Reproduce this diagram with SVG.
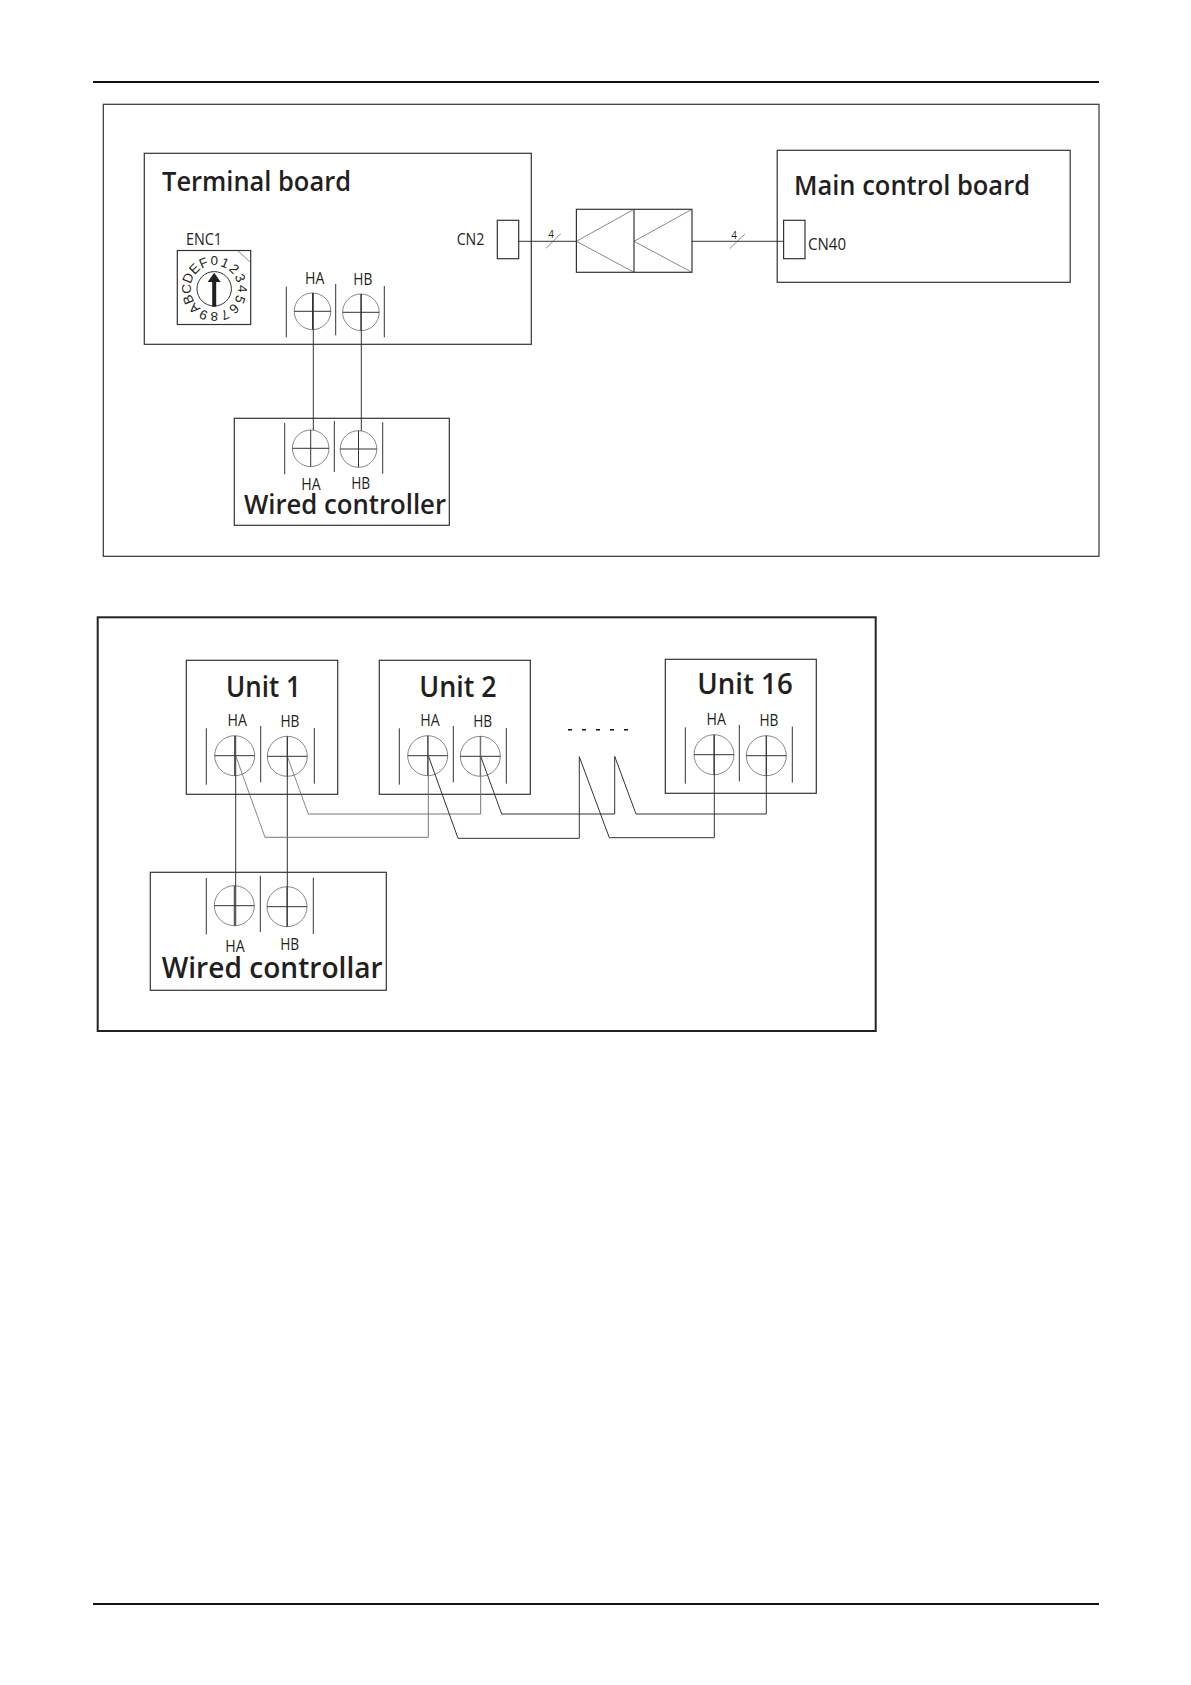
<svg xmlns="http://www.w3.org/2000/svg" width="1191" height="1685" viewBox="0 0 1191 1685">
<defs>
<style>
.b{fill:#fff;stroke:#333;stroke-width:1.2}
.f{fill:none;stroke:#333;stroke-width:1.2}
.w{fill:none;stroke:#333;stroke-width:1}
.g{fill:none;stroke:#777;stroke-width:1}
.c{fill:none;stroke:#555;stroke-width:.7}
.x{stroke:#333;stroke-width:1}
text{font-family:"Open Sans","Noto Sans","Liberation Sans",sans-serif;fill:#231f20;font-weight:500}
.t{font-size:27px;font-weight:600}
.u{font-size:29px;font-weight:600}
.s{font-size:16px}
.l{font-size:15.5px}
.n{font-size:10px;text-anchor:middle}
.d{font-family:"Liberation Sans",sans-serif;font-size:13.5px;text-anchor:middle;font-weight:400}
</style>
<g id="ts1"><circle r="18.3" class="c"/><path d="M-18.3 0H18.3M0-18.3V18.3" class="x"/></g>
<g id="ts2"><circle r="20" class="c"/><path d="M-20 0H20M0-20V20" class="x"/></g>
</defs>
<rect width="1191" height="1685" fill="#fff"/>
<path d="M93 82H1099M93 1604H1099" fill="none" stroke="#111" stroke-width="2"/>
<rect id="frame1" x="103.3" y="104.3" width="995.7" height="452" class="f"/>
<rect id="frame2" x="97.7" y="617.3" width="778" height="413.7" fill="none" stroke="#222" stroke-width="2"/>

<g id="terminal-board">
<rect x="144.3" y="153.3" width="387" height="191" class="b"/>
<text x="162" y="190.7" class="t" textLength="189" lengthAdjust="spacingAndGlyphs">Terminal board</text>
<text x="186" y="244.7" class="s" textLength="36" lengthAdjust="spacingAndGlyphs">ENC1</text>
<text x="456.7" y="245.3" class="s" textLength="27.6" lengthAdjust="spacingAndGlyphs">CN2</text>
<rect x="497.3" y="220.3" width="21.4" height="38.4" class="b"/>
<g id="enc1">
<rect x="177.3" y="250.5" width="73.4" height="74" class="b"/>
<path d="M237.7 250.5L250.7 262.7" class="c"/>
<circle cx="214.2" cy="288.8" r="17.2" class="w"/>
<path d="M212.2 306.7V282H207.7L214.2 272.7L220.7 282H216.2V306.7Z" fill="#231f20"/>
<g transform="translate(214.2 288.8)">
<text class="d" y="-23.5">0</text>
<text class="d" y="-23.5" transform="rotate(22.5)">1</text>
<text class="d" y="-23.5" transform="rotate(45)">2</text>
<text class="d" y="-23.5" transform="rotate(67.5)">3</text>
<text class="d" y="-23.5" transform="rotate(90)">4</text>
<text class="d" y="-23.5" transform="rotate(112.5)">5</text>
<text class="d" y="-23.5" transform="rotate(135)">6</text>
<text class="d" y="-23.5" transform="rotate(157.5)">7</text>
<text class="d" y="-23.5" transform="rotate(180)">8</text>
<text class="d" y="-23.5" transform="rotate(202.5)">9</text>
<text class="d" y="-23.5" transform="rotate(225)">A</text>
<text class="d" y="-23.5" transform="rotate(247.5)">B</text>
<text class="d" y="-23.5" transform="rotate(270)">C</text>
<text class="d" y="-23.5" transform="rotate(292.5)">D</text>
<text class="d" y="-23.5" transform="rotate(315)">E</text>
<text class="d" y="-23.5" transform="rotate(337.5)">F</text>
</g>
</g>
<path d="M286.3 286.7V337.3M335.7 284V335.3M384.3 286V337.3" class="w"/>
<use href="#ts1" x="312.5" y="311.3"/>
<use href="#ts1" x="360.9" y="312.3"/>
<text x="305" y="284.3" class="l" textLength="19.4" lengthAdjust="spacingAndGlyphs">HA</text>
<text x="353.3" y="285" class="l" textLength="19" lengthAdjust="spacingAndGlyphs">HB</text>
</g>

<g id="wired-controller-1">
<rect x="234.3" y="418.3" width="215" height="107" class="b"/>
<path d="M284.7 423V474.3M334.3 421V472M382.7 422.3V473.7" class="w"/>
<use href="#ts1" x="310.7" y="448.3"/>
<use href="#ts1" x="358.5" y="449"/>
<text x="301.3" y="490" class="l" textLength="19.4" lengthAdjust="spacingAndGlyphs">HA</text>
<text x="351.2" y="488.7" class="l" textLength="19" lengthAdjust="spacingAndGlyphs">HB</text>
<text x="244" y="514.3" class="t" textLength="202" lengthAdjust="spacingAndGlyphs">Wired controller</text>
</g>

<g id="main-control-board">
<rect x="777.2" y="150.3" width="293" height="132" class="b"/>
<text x="794" y="194.7" class="t" textLength="236" lengthAdjust="spacingAndGlyphs">Main control board</text>
<rect x="783.6" y="220.3" width="21.4" height="38.4" class="b"/>
<text x="808" y="250" class="s" textLength="38" lengthAdjust="spacingAndGlyphs">CN40</text>
</g>

<g id="transformer">
<rect x="576.4" y="209.3" width="115.6" height="63" class="f"/>
<path d="M634 209.3V272.3" class="f"/>
<path d="M634 209.3L576.4 241.3L634 272.3M692 209.3L634 241.3L692 272.3" class="c"/>
</g>

<g id="unit-1">
<rect x="186.3" y="660.3" width="151.4" height="134" class="b"/>
<text x="226" y="696.7" class="u" textLength="74.7" lengthAdjust="spacingAndGlyphs">Unit 1</text>
<text x="227.6" y="725.7" class="l" textLength="19.4" lengthAdjust="spacingAndGlyphs">HA</text>
<text x="280.5" y="727" class="l" textLength="19" lengthAdjust="spacingAndGlyphs">HB</text>
<path d="M206.3 728.3V784.7M260.7 726V782.3M314.3 728V783.7" class="w"/>
<use href="#ts2" x="234.7" y="755.7"/>
<use href="#ts2" x="287.3" y="756.3"/>
</g>
<g id="unit-2">
<rect x="379.3" y="660.3" width="151" height="134" class="b"/>
<text x="419.3" y="696.7" class="u" textLength="77.4" lengthAdjust="spacingAndGlyphs">Unit 2</text>
<text x="420.3" y="725.7" class="l" textLength="19.4" lengthAdjust="spacingAndGlyphs">HA</text>
<text x="473.2" y="727" class="l" textLength="19" lengthAdjust="spacingAndGlyphs">HB</text>
<path d="M399.3 728.3V784.7M453.3 726V782.3M506.3 728V783.7" class="w"/>
<use href="#ts2" x="427.7" y="755.7"/>
<use href="#ts2" x="480.3" y="756.3"/>
</g>
<g id="unit-16">
<rect x="665.3" y="659.3" width="151" height="134" class="b"/>
<text x="697.3" y="694.3" class="u" textLength="95.4" lengthAdjust="spacingAndGlyphs">Unit 16</text>
<text x="706.6" y="725" class="l" textLength="19.4" lengthAdjust="spacingAndGlyphs">HA</text>
<text x="759.5" y="726" class="l" textLength="19" lengthAdjust="spacingAndGlyphs">HB</text>
<path d="M685.3 727.3V783.7M739.3 725V781.3M792.3 726.7V782.7" class="w"/>
<use href="#ts2" x="714" y="754.7"/>
<use href="#ts2" x="766.3" y="755.7"/>
</g>
<g id="wired-controller-2">
<rect x="150.3" y="872.3" width="236" height="118" class="b"/>
<path d="M206.3 878V934.3M260.3 875.7V932M313.3 877.7V934" class="w"/>
<use href="#ts2" x="234.3" y="905.7"/>
<use href="#ts2" x="287" y="906.7"/>
<text x="225.3" y="951.7" class="l" textLength="19.4" lengthAdjust="spacingAndGlyphs">HA</text>
<text x="280.2" y="950" class="l" textLength="19" lengthAdjust="spacingAndGlyphs">HB</text>
<text x="161.7" y="978.3" class="u" textLength="221" lengthAdjust="spacingAndGlyphs">Wired controllar</text>
</g>

<g id="connectors">
<path d="M518.7 241.3H576.4M692 241.3H783.6" class="w"/>
<path d="M546 248.3L560.7 233.7M729.6 248.7L744.9 234" class="c"/>
<path d="M313.3 293V430M361.3 294V431" class="w"/>
<path d="M235.7 736V925.7M287.3 736.7V926.7" class="w"/>
<path d="M428.3 736V837.3H265M480.7 736.7V814H308.3" class="g"/>
<path d="M235.7 755.7L265 837.3M287.3 756.3L308.3 814" class="c"/>
<path d="M428.3 755.7L458 838.3H579.3V756.7L609.3 837.7H714.3V735" class="w"/>
<path d="M480.7 756.3L501.7 814H614.7V756.3L636 814H766.3V735.7" class="w"/>
<path d="M568 729.7H572M582 729.7H586M596 729.7H600M610 729.7H614M624 729.7H628" stroke="#111" stroke-width="1.6" fill="none"/>
</g>
<text x="551" y="238.3" class="n">4</text>
<text x="734.2" y="239.3" class="n">4</text>
</svg>
